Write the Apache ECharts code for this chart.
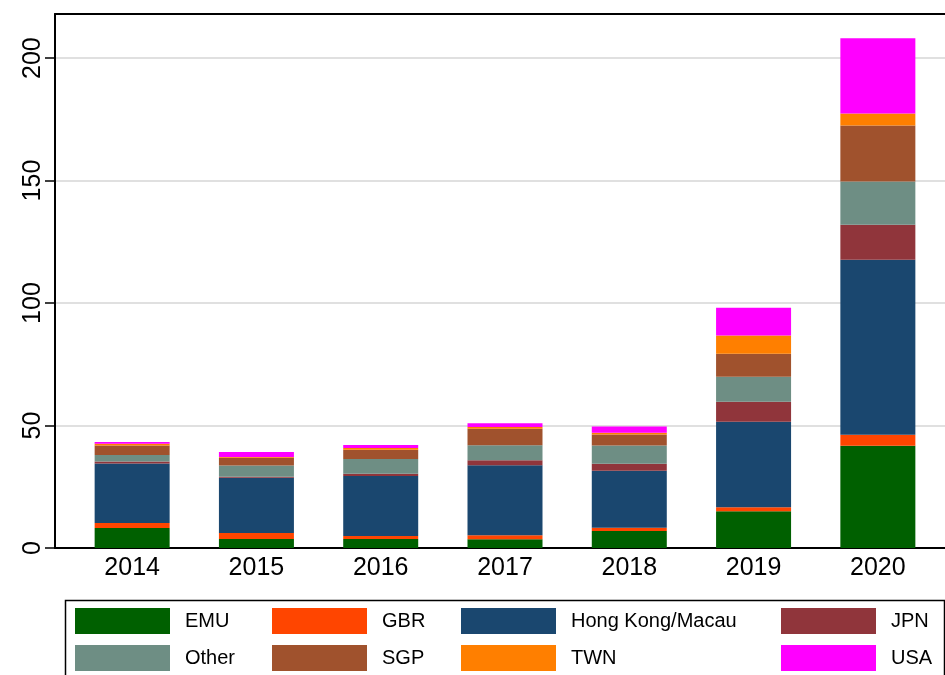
<!DOCTYPE html>
<html><head><meta charset="utf-8">
<script src="https://cdn.jsdelivr.net/npm/echarts@6/dist/echarts.min.js"></script>
<style>html,body{margin:0;padding:0;background:#fff}#c{width:945px;height:675px}</style>
</head><body><div id="c"></div>
<script>
var years = ['2014','2015','2016','2017','2018','2019','2020'];
var yTicks = [0, 50, 100, 150, 200];
var seriesNames = ['EMU','GBR','Hong Kong/Macau','JPN','Other','SGP','TWN','USA'];
var emu   = [8.2, 3.7, 3.7, 3.6, 6.9, 15.0, 41.7];
var gbr   = [2.0, 2.4, 1.2, 1.6, 1.4, 1.6, 4.5];
var hk    = [24.3, 22.6, 24.5, 28.6, 23.2, 34.9, 71.5];
var jpn   = [0.8, 0.4, 0.9, 2.0, 2.9, 8.2, 14.3];
var other = [2.7, 4.6, 6.0, 6.1, 7.4, 10.2, 17.6];
var sgp   = [3.8, 3.1, 3.8, 6.8, 4.5, 9.4, 22.9];
var twn   = [0.8, 0.4, 0.7, 0.7, 0.8, 7.5, 4.9];
var usa   = [0.7, 2.0, 1.2, 1.5, 2.5, 11.3, 30.7];

var values = [emu, gbr, hk, jpn, other, sgp, twn, usa];
var colors = ['#006000','#ff4500','#1a476f','#90353b','#6e8e84','#a0522d','#ff7f00','#ff00ff'];
var FONT = "'Liberation Sans', Arial, sans-serif";
var YMAX = 218;
var TICKMAX = 200;
var TOP = 14, BOTTOM = 127, H = 675 - TOP - BOTTOM;
var tickTop = TOP + H * (YMAX - TICKMAX) / YMAX;

var chart = echarts.init(document.getElementById('c'), null, {renderer:'canvas'});

var series = seriesNames.map(function(n, i){
  return {
    name: n, type: 'bar', stack: 'total', xAxisIndex: 1, yAxisIndex: 1,
    data: values[i], barWidth: 75, itemStyle: {color: colors[i]},
    emphasis: {disabled: true}, z: 3
  };
});

function legendCol(left, names){
  return {
    left: left, top: 608, orient: 'vertical', itemGap: 11, padding: 0,
    itemWidth: 95, itemHeight: 26, selectedMode: false,
    icon: 'rect',
    textStyle: {fontFamily: FONT, fontSize: 20, color: '#000', padding: [0,0,0,10]},
    data: names
  };
}

chart.setOption({
  animation: false,
  color: colors,
  textStyle: {fontFamily: FONT},
  grid: [
    {left: 55, right: -3, top: TOP, bottom: BOTTOM},
    {left: 70, right: 5, top: TOP, bottom: BOTTOM},
    {left: 55, right: -3, top: tickTop, bottom: BOTTOM}
  ],
  xAxis: [
    {gridIndex: 0, type: 'value', min: 0, max: 1, position: 'bottom',
     axisLine: {show: true, lineStyle: {color: '#000', width: 2}},
     axisTick: {show: false}, axisLabel: {show: false}, splitLine: {show: false}},
    {gridIndex: 1, type: 'category', data: years,
     axisLine: {show: false}, axisTick: {show: false},
     axisLabel: {fontFamily: FONT, fontSize: 25, color: '#000', margin: 8}},
    {gridIndex: 0, type: 'value', min: 0, max: 1, position: 'top',
     axisLine: {show: true, lineStyle: {color: '#000', width: 2}},
     axisTick: {show: false}, axisLabel: {show: false}, splitLine: {show: false}},
    {gridIndex: 2, type: 'value', min: 0, max: 1, show: false}
  ],
  yAxis: [
    {gridIndex: 0, type: 'value', min: 0, max: YMAX,
     axisLine: {show: true, lineStyle: {color: '#000', width: 2}},
     axisTick: {show: false}, axisLabel: {show: false},
     splitLine: {show: false}},
    {gridIndex: 1, type: 'value', min: 0, max: YMAX, show: false},
    {gridIndex: 2, type: 'value', min: 0, max: TICKMAX, interval: 50,
     axisLine: {show: false},
     axisTick: {show: true, length: 10, lineStyle: {color: '#000', width: 1.5}},
     axisLabel: {fontFamily: FONT, fontSize: 25, color: '#000', rotate: 90, margin: 9},
     splitLine: {show: true, lineStyle: {color: '#e0e0e0', width: 2}}}
  ],
  legend: [
    legendCol(75, ['EMU','Other']),
    legendCol(272, ['GBR','SGP']),
    legendCol(461, ['Hong Kong/Macau','TWN']),
    legendCol(781, ['JPN','USA'])
  ],
  graphic: [
    {type: 'rect', left: 63, top: 598, shape: {width: 879, height: 90},
     style: {fill: 'none', stroke: '#000', lineWidth: 1.5}, silent: true, z: -1}
  ],
  series: series
});
</script></body></html>
